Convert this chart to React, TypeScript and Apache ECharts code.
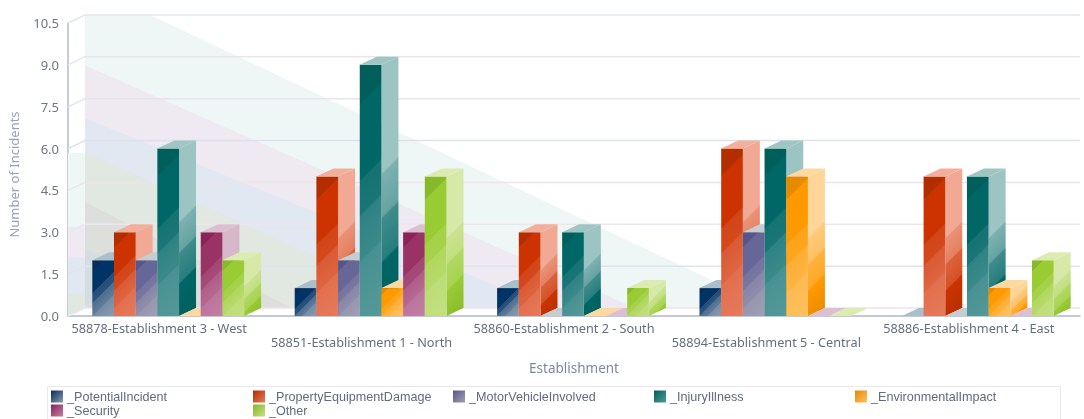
import React, { useEffect, useRef } from "react";
import * as echarts from "echarts";

const categories = [
  "58878-Establishment 3 - West",
  "58851-Establishment 1 - North",
  "58860-Establishment 2 - South",
  "58894-Establishment 5 - Central",
  "58886-Establishment 4 - East",
];
const seriesNames = [
  "_PotentialIncident",
  "_PropertyEquipmentDamage",
  "_MotorVehicleInvolved",
  "_InjuryIllness",
  "_EnvironmentalImpact",
  "_Security",
  "_Other",
];
const potentialIncident = [2, 1, 1, 1, 0];
const propertyEquipmentDamage = [3, 5, 3, 6, 5];
const motorVehicleInvolved = [2, 2, 0, 3, 0];
const injuryIllness = [6, 9, 3, 6, 5];
const environmentalImpact = [0, 1, 0, 5, 1];
const security = [3, 3, 0, 0, 0];
const other = [2, 5, 1, 0, 2];
const seriesValues = [
  potentialIncident,
  propertyEquipmentDamage,
  motorVehicleInvolved,
  injuryIllness,
  environmentalImpact,
  security,
  other,
];
const valueTicks = [0, 1.5, 3, 4.5, 6, 7.5, 9, 10.5];

// Back-wall wedges: value at the wall, where they die out (in category widths), value on the side wall
const wedgeBackValues = [11.6, 8.7, 6.8, 5.6, 3.8, 2.15];
const wedgeEndCategories = [3.39, 2.72, 2.3, 1.7, 1.02, 0.62];
const wedgeSideValues = [5.84, 3.2, 2.1, 0.8, 0, 0];

const palette = [
  { dark: "#0a2a58", base: "#003366", light: "#8b9cb0", top: "#a9c0cc", sideTop: "#9fb4c4" },
  { dark: "#b22e00", base: "#cc3300", light: "#e67a5c", top: "#f2b09c", sideTop: "#f1a994" },
  { dark: "#56568a", base: "#666699", light: "#a09fb4", top: "#c5cdd2", sideTop: "#c2c2d6" },
  { dark: "#005f5b", base: "#006666", light: "#55999a", top: "#a0c6c4", sideTop: "#9cc4c2" },
  { dark: "#e68a00", base: "#ff9900", light: "#ffc05e", top: "#fdd9a0", sideTop: "#ffd699" },
  { dark: "#8a2358", base: "#993366", light: "#c27fa5", top: "#dcc0d2", sideTop: "#d6b8ca" },
  { dark: "#88b82c", base: "#99cc33", light: "#c3e082", top: "#dcecb0", sideTop: "#d6e9a8" },
];
const wedgeColors = ["#eff7f6", "#efe9f1", "#e1e8f1", "#e0e8e1", "#dcdfdc", "#d6dde1"];
const gridColors = ["#efe4ec", "#dde3f0", "#efe5ee", "#efe3ea", "#dde1ef", "#e8e4ee", "#ece4ec", "#e3e6f0"];

const DEPTH_X = 17;
const DEPTH_Y = 8;
const BAR_SHARE = 0.75;
const FONT = "'Noto Sans', sans-serif";
const LEGEND_FONT = "'Liberation Sans', sans-serif";

function mix(a: string, b: string, t: number) {
  const p = (s: string, i: number) => parseInt(s.slice(i, i + 2), 16);
  const c = [1, 3, 5].map((i) => Math.round(p(a, i) + (p(b, i) - p(a, i)) * t));
  return `rgb(${c[0]},${c[1]},${c[2]})`;
}

function frontStops(c: (typeof palette)[number]) {
  return [
    { offset: 0, color: c.dark },
    { offset: 0.14, color: c.dark },
    { offset: 0.15, color: c.base },
    { offset: 0.42, color: c.base },
    { offset: 0.43, color: mix(c.base, c.light, 0.25) },
    { offset: 0.55, color: mix(c.base, c.light, 0.3) },
    { offset: 0.56, color: mix(c.base, c.light, 0.55) },
    { offset: 0.72, color: mix(c.base, c.light, 0.7) },
    { offset: 0.73, color: mix(c.base, c.light, 0.85) },
    { offset: 1, color: c.light },
  ];
}
function sideStops(c: (typeof palette)[number]) {
  return [
    { offset: 0, color: c.sideTop },
    { offset: 0.42, color: c.sideTop },
    { offset: 0.43, color: mix(c.sideTop, c.base, 0.2) },
    { offset: 0.58, color: mix(c.sideTop, c.base, 0.35) },
    { offset: 0.59, color: mix(c.sideTop, c.base, 0.6) },
    { offset: 0.74, color: mix(c.sideTop, c.base, 0.75) },
    { offset: 0.75, color: c.base },
    { offset: 1, color: c.dark },
  ];
}

function diagonalFill(x: number, y: number, w: number, h: number, stops: any[]) {
  const d = (w + h) / 2;
  return { type: "linear", x, y, x2: x + d, y2: y + d, global: true, colorStops: stops };
}

function iconFill(c: (typeof palette)[number]) {
  return new echarts.graphic.LinearGradient(0, 0, 1, 1, [
    { offset: 0, color: c.dark },
    { offset: 1, color: c.light },
  ]);
}

export default function App() {
  const ref = useRef<HTMLDivElement>(null);

  useEffect(() => {
    if (!ref.current) return;
    const chart = echarts.init(ref.current, undefined, { renderer: "svg" });

    const wedgeSeries = {
      type: "custom",
      silent: true,
      z: 1,
      data: wedgeBackValues.map((v, i) => [0, v, wedgeEndCategories[i], wedgeSideValues[i]]),
      encode: { x: 0, y: 1 },
      renderItem: (params: any, api: any) => {
        const cs = params.coordSys;
        const backLeft = cs.x + DEPTH_X;
        const floorY = cs.y + cs.height - DEPTH_Y;
        const topY = cs.y - DEPTH_Y;
        const catW = cs.width / categories.length;
        const yAt = (v: number) => api.coord([0, v])[1];
        const startY = yAt(api.value(1)) - DEPTH_Y;
        const endX = backLeft + api.value(2) * catW;
        const pts: number[][] = [];
        if (startY < topY) {
          const cut = backLeft + ((topY - startY) / (floorY - startY)) * (endX - backLeft);
          pts.push([backLeft, topY], [cut, topY]);
        } else {
          pts.push([backLeft, startY]);
        }
        pts.push([endX, floorY], [backLeft, floorY]);
        const fill = wedgeColors[params.dataIndex];
        const children: any[] = [{ type: "polygon", shape: { points: pts }, style: { fill } }];
        const sideVal = api.value(3);
        if (sideVal > 0) {
          const sy = yAt(sideVal);
          children.push({
            type: "polygon",
            shape: { points: [[cs.x, sy], [backLeft, sy], [backLeft, floorY], [cs.x, cs.y + cs.height]] },
            style: { fill },
          });
        }
        return { type: "group", children };
      },
    };

    const gridSeries = {
      type: "custom",
      silent: true,
      z: 1,
      data: valueTicks.map((v) => [0, v]),
      encode: { x: 0, y: 1 },
      renderItem: (params: any, api: any) => {
        const cs = params.coordSys;
        const y = api.coord([0, api.value(1)])[1];
        const style = { fill: "none", stroke: gridColors[params.dataIndex], lineWidth: 1.5 };
        return {
          type: "polyline",
          shape: { points: [[cs.x, y], [cs.x + DEPTH_X, y - DEPTH_Y], [cs.x + cs.width, y - DEPTH_Y]] },
          style,
        };
      },
    };

    const barSeries = seriesNames.map((name, s) => ({
      name,
      type: "custom",
      z: 2,
      data: seriesValues[s].map((v, i) => [i, v]),
      encode: { x: 0, y: 1 },
      itemStyle: { color: palette[s].base },
      renderItem: (_params: any, api: any) => {
        const c = palette[s];
        const pt = api.coord([api.value(0), api.value(1)]);
        const base = api.coord([api.value(0), 0]);
        const slot = (api.size([1, 0])[0] * BAR_SHARE) / seriesNames.length;
        const x = pt[0] + (s - (seriesNames.length - 1) / 2) * slot - slot / 2 - 1;
        const y = pt[1];
        const h = base[1] - y;
        const children: any[] = [];
        if (h > 0) {
          children.push({
            type: "polygon",
            shape: {
              points: [
                [x + slot, y],
                [x + slot + DEPTH_X, y - DEPTH_Y],
                [x + slot + DEPTH_X, base[1] - DEPTH_Y],
                [x + slot, base[1]],
              ],
            },
            style: { fill: diagonalFill(x + slot, y - DEPTH_Y, DEPTH_X, h + DEPTH_Y, sideStops(c)) },
          });
          children.push({
            type: "rect",
            shape: { x, y, width: slot, height: h },
            style: { fill: diagonalFill(x, y, slot, h, frontStops(c)) },
          });
        }
        children.push({
          type: "polygon",
          shape: {
            points: [
              [x, y],
              [x + DEPTH_X, y - DEPTH_Y],
              [x + slot + DEPTH_X, y - DEPTH_Y],
              [x + slot, y],
            ],
          },
          style: { fill: c.top },
        });
        return { type: "group", children };
      },
    }));

    const legendLefts = [51, 253, 453, 654, 855, 51, 253];
    const legendTops = [390, 390, 390, 390, 390, 404, 404];

    chart.setOption({
      animation: false,
      backgroundColor: "#ffffff",
      textStyle: { fontFamily: FONT },
      grid: { left: 68, right: 4, top: 23, bottom: 103, containLabel: false, outerBoundsMode: "none" },
      xAxis: {
        type: "category",
        data: categories,
        name: "Establishment",
        nameLocation: "middle",
        nameGap: 45,
        nameTextStyle: { color: "#7d89a3", fontSize: 13.5, fontFamily: FONT },
        axisTick: { show: false },
        axisLine: { lineStyle: { color: "#aeb7d2", width: 1.5 } },
        axisLabel: {
          interval: 0,
          margin: 5,
          color: "#656d7e",
          fontSize: 12.7,
          lineHeight: 14,
          fontFamily: FONT,
          padding: [0, 20, 0, 0],
          formatter: (v: string, i: number) => (i % 2 ? "\n" + v : v),
        },
      },
      yAxis: {
        type: "value",
        min: 0,
        max: 10.5,
        interval: 1.5,
        name: "Number of Incidents",
        nameLocation: "middle",
        nameGap: 48,
        nameTextStyle: { color: "#98a2b8", fontSize: 13, fontFamily: FONT, padding: [0, 10, 0, 0] },
        axisLine: { show: true, lineStyle: { color: "#b3bbd0", width: 1.5 } },
        axisTick: { show: false },
        splitLine: { show: false },
        axisLabel: {
          margin: 9,
          color: "#6f7585",
          fontSize: 13,
          fontFamily: FONT,
          formatter: (v: number) => v.toFixed(1),
        },
      },
      legend: seriesNames.map((name, i) => ({
        data: [{ name, itemStyle: { color: iconFill(palette[i]) } }],
        left: legendLefts[i],
        top: legendTops[i],
        padding: 0,
        itemWidth: 12,
        itemHeight: 12,
        itemGap: 0,
        icon: "rect",
        selectedMode: false,
        textStyle: { color: "#5f6b80", fontSize: 12.6, lineHeight: 13, fontFamily: LEGEND_FONT, padding: [0, 0, 0, -1] },
      })),
      graphic: [
        {
          type: "rect",
          silent: true,
          z: -1,
          shape: { x: 47.5, y: 386.5, width: 1013, height: 40 },
          style: { fill: "#ffffff", stroke: "#ece6ee", lineWidth: 1 },
        },
      ],
      series: [wedgeSeries, gridSeries, ...barSeries],
    } as any);

    return () => chart.dispose();
  }, []);

  return (
    <div
      ref={ref}
      style={{
        position: "fixed",
        left: 0,
        top: 0,
        width: 1084,
        height: 419,
        filter: "blur(0.45px)",
      }}
    />
  );
}
